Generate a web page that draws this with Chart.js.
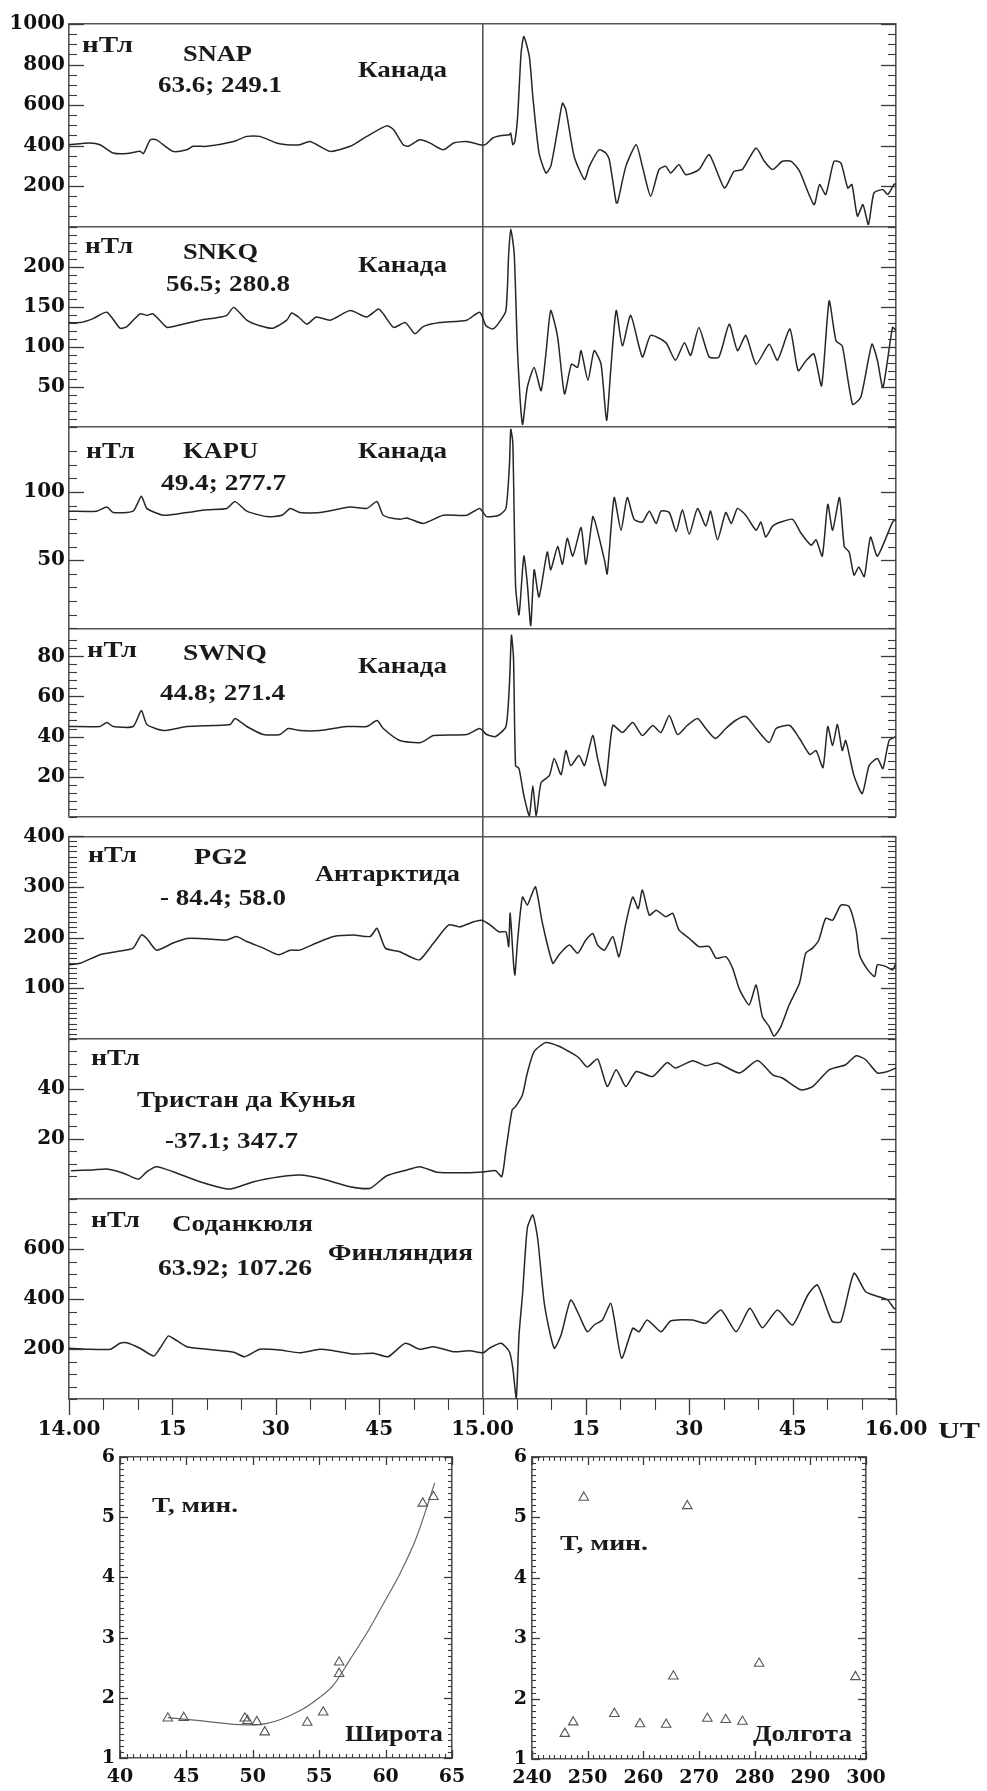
<!DOCTYPE html>
<html><head><meta charset="utf-8">
<script src="https://cdn.jsdelivr.net/npm/chart.js@4.4.1/dist/chart.umd.min.js"></script>
<style>
html,body{margin:0;padding:0;background:#fff;}
#wrap{position:relative;width:987px;height:1791px;overflow:hidden;background:#fff;}
canvas{position:absolute;}
.lbl{position:absolute;font-family:"Liberation Serif",serif;font-weight:bold;white-space:nowrap;color:#1a1a1a;transform-origin:0 0;}
</style></head><body><div id="wrap">
<canvas id="main" width="987" height="1455" style="left:0px;top:0px"></canvas>
<canvas id="lat" width="480" height="351" style="left:0px;top:1440px"></canvas>
<canvas id="lon" width="507" height="351" style="left:480px;top:1440px"></canvas>
</div>
<script>
// ---------------- DATA (minutes after 14.00 UT, nT) ----------------
const snapT = [0,3,4.5,6.4,8.4,10.3,10.8,11.8,12.7,15.1,17.1,18,20,23.9,25.8,27.7,30.1,31.6,33.5,35,37.9,40.8,43.2,46.1,47.1,48.5,49.2,50.9,52.4,54.3,55.8,57.7,59.6,60.4,61.5,62.6,63.9,64.1,64.4,64.7,65.1,65.6,66.0,66.8,67.3,68.2,69.2,69.9,70.9,71.6,72.1,73.3,74.8,75.5,76.9,77.9,78.4,79.4,79.6,80.8,82.3,83.2,84.4,85.6,86.6,87.3,88.5,89.5,91.4,92.9,95.1,96.5,97.7,99.7,100.9,102.1,103.5,104.8,106,108.1,108.9,109.8,111,112,113,113.6,114.4,115.2,116,116.8,118.1,118.8,119.7,120];
const snapV = [404,412,404,363,360,371,360,428,428,371,379,396,396,420,445,445,412,404,404,420,371,396,445,497,478,404,396,428,412,379,412,420,404,404,437,448,453,461,404,420,544,856,938,839,642,363,264,297,478,609,576,346,232,297,379,363,330,117,117,297,404,297,149,281,297,264,305,256,281,355,190,273,281,388,322,281,322,322,273,108,207,158,322,314,190,207,51,108,10,166,182,158,207,210];

const snkqT = [0,1.6,3.5,5.5,7.4,8.4,10.3,11.3,12.2,14.2,15.1,19,21.4,22.9,23.9,25.8,27.7,29.6,31.6,32.3,33.3,34.5,35.9,37.9,40.8,43.2,44.9,45.6,47.1,48.8,50.2,51.4,53.8,57.7,59.6,60.5,61.5,62.4,63.4,63.8,64.1,64.6,65.1,65.8,66.5,67.5,68.5,69.2,69.9,70.9,71.9,72.9,73.8,74.3,75.3,76.2,77.2,78,78.6,79.4,80.3,81.5,83.2,84.4,86.6,88,89.3,90.2,91.4,92.9,94.3,95.8,97,98.2,99.7,101.6,102.8,104.6,105.8,107,108.1,109.2,110.3,111.3,112.2,113.7,114.9,116.5,117.3,118.1,119.5,120];
const snkqV = [130,130,135,143,123,125,141,139,141,124,125,133,136,139,149,133,126,123,133,142,137,128,137,133,145,137,147,141,124,130,116,125,130,133,143,126,122,130,145,216,247,216,91,3,49,74,45,91,145,112,41,78,74,95,58,95,78,8,70,145,101,139,87,114,105,83,105,89,124,87,87,128,95,114,78,103,83,122,70,83,91,51,157,107,101,28,37,103,83,49,124,120];

const kapuT = [0,4,5.5,6.4,9.3,10.5,11.3,13.7,17.1,20,22.9,24.1,25.8,28.7,30.9,32.1,33.5,36.4,40.8,43.2,44.7,45.6,48,49,51.4,54.3,57.7,59.6,60.6,62.4,63.4,63.9,64.1,64.4,64.8,65.3,66,66.5,67,67.5,68.2,69.4,69.9,70.9,71.6,72.3,73.1,74.3,75,76,76.4,77.7,78.1,79.1,80.1,81,82,83.2,84.2,85.2,85.9,87.1,88.1,89,90,91.2,92.4,93.1,94.1,95.3,96.1,97,98.2,99.7,100.4,101.1,102.1,103.3,105,106.2,107.7,108.4,109.3,110.1,110.8,111.8,112.5,113.2,113.9,114.6,115.4,116.3,117.3,119.5,120];
const kapuV = [86,86,89,85,86,97,88,83,85,87,88,93,86,82,83,88,85,85,89,88,93,83,80,81,77,83,83,88,82,83,88,119,146,136,31,10,53,33,2,43,23,56,43,60,47,66,53,74,47,82,77,50,40,96,72,96,80,78,86,77,86,85,71,87,69,88,75,86,65,85,77,88,83,72,78,67,75,78,80,70,61,65,53,91,72,96,60,56,39,45,38,67,53,78,80];

const swnqT = [0,4.5,5.5,6.4,9.3,10.5,11.3,13.7,17.1,20.9,23.4,24.1,25.8,28.2,30.6,31.8,33.5,36.4,40.3,43.2,44.7,45.6,48,51,52.9,57.7,59.6,60.6,61.9,63.4,63.9,64.2,64.5,64.8,65.3,66,66.8,67.3,67.8,68.5,69.7,70.4,71.4,72.1,72.8,74,74.8,76,76.7,77.8,78.9,80.3,81.8,83.2,84.7,85.9,87.1,88.3,89.7,91.2,92.4,93.8,95.3,96.7,98.2,99.7,101.6,102.6,104.6,106,107.5,108.4,109.4,110.1,110.8,111.5,112.2,112.7,113.9,115.1,116.1,117.3,118.1,119,120];
const swnqV = [45,45,47,45,45,53,46,43,45,45.5,46,49,45,41,41,44,43,43,45,45,48,44,38,37,40.5,41,44,41,40,45,65.5,90.5,79,25.5,24,10.5,0.5,15.5,0.5,17,20.5,29,21,33,25.5,30.5,25.5,40.5,29,15.5,45.5,42,47,40.5,45.5,42,50.5,41,45.5,49,44,39,44,48,50,44,37,44,45.5,39,31,33,24.5,45,35.5,46,33,38,20.5,11.5,25.5,29,24,38,40];

const pg2T = [0,1.6,4.5,6.9,9.3,10.5,11.3,12.7,15.1,17.1,19,22.9,24.3,25.8,28.2,30.4,32.1,33.5,35.9,38.4,41.3,43.7,44.7,45.9,48,49.5,50.9,52.9,55.1,56.7,58.7,59.9,61.1,62.4,63.4,63.8,64,64.2,64.5,64.7,65.1,65.8,66.5,67,67.7,68.7,70.2,71.1,72.6,73.8,75,76,76.7,77.7,78.9,79.8,80.8,81.8,82.6,83.2,84.2,85.2,86.6,87.6,88.5,90,91.4,92.9,93.9,95.3,96.3,97.3,98.7,99.7,100.6,101.6,102.3,103.3,104.5,106,106.9,107.9,108.8,109.8,110.8,112,113.2,114.2,114.7,115.9,116.9,117.3,118.5,119.5,120];
const pg2V = [146,149,166,172,179,205,198,175,189,198,198,195,202,192,179,166,175,175,189,202,205,202,218,179,172,162,156,189,225,221,231,234,225,211,211,182,248,215,149,126,195,280,264,280,300,228,149,166,185,169,195,208,185,175,202,162,228,280,257,294,244,254,241,248,215,198,182,182,159,162,139,97,67,106,44,24,5,24,67,110,169,179,195,238,234,264,261,215,166,136,123,146,143,136,149];

const tdcT = [0.3,3.5,5.5,7.9,10.1,11.3,12.7,15.1,19,22.9,23.9,26.8,30.6,33.5,36.4,40.8,43.7,46.1,49,50.9,53.4,57.7,60.4,61.9,62.8,63.4,64.3,64.8,65.8,66.5,67.5,69.2,71.1,73.1,74,75.2,76.7,78.1,79.4,80.8,82.3,84.7,86.8,88,90.5,92.4,94.1,97.3,99.9,102.1,103.5,106.2,107.9,110.3,112.7,114.2,115.6,117.3,118.8,120];
const tdcV = [7.3,7.6,8,6.3,3.9,6.9,8.9,6.9,2.9,0,0.3,2.9,4.9,5.6,4.3,0.9,0.3,5.3,7.6,8.9,6.7,6.5,6.9,7.3,4.9,15.6,31.6,32.9,37.6,46.3,54.9,58.5,57,54,52.3,48.7,51.9,40.9,47.6,40.9,46.9,44.9,50.5,48.3,51.2,49.2,50.3,46.3,51.3,45.6,44.3,39.6,40.9,47.6,49.6,53.2,51.6,46.3,46.9,48.3];

const sodT = [0,2.6,6,7.4,8.4,10.3,12.3,13.2,14.4,15.1,17.1,20,23.9,25.5,27.7,30.6,33.5,36.4,38.4,41.3,44.2,46.3,48.8,50.9,52.9,55.8,58.2,60.1,61,62.7,63.9,64.4,64.9,65.3,65.8,66.5,67.3,68,69,70.4,71.4,72.8,74,75.2,76.2,77.4,78.6,79.1,80.2,81.8,82.7,83.9,85.9,87.3,90.5,92.4,94.6,96.8,98.8,100.6,102.8,105,107.2,108.6,110.7,112,113.9,115.6,117.5,118.8,119.7,120];
const sodV = [203,199,199,223,225,203,172,203,252,243,209,199,187,169,199,196,185,199,193,180,183,169,223,199,209,189,193,185,203,223,189,123,3,256,416,683,736,643,376,203,256,396,336,269,296,316,383,323,163,283,269,316,269,312,316,303,356,269,363,285,356,296,416,456,312,309,503,429,409,396,363,360];

// station names / coordinates (panel captions)
const stationNames = ['SNAP','SNKQ','KAPU','SWNQ','PG2','Тристан да Кунья','Соданкюля'];
const stationCoords = ['63.6; 249.1','56.5; 280.8','49.4; 277.7','44.8; 271.4','- 84.4; 58.0','-37.1; 347.7','63.92; 107.26'];
const stationRegion = ['Канада','Канада','Канада','Канада','Антарктида','','Финляндия'];

// y-axis tick labels of each panel
const snapTicks = [200,400,600,800,1000];
const snkqTicks = [50,100,150,200];
const kapuTicks = [50,100];
const swnqTicks = [20,40,60,80];
const pg2Ticks = [100,200,300,400];
const tdcTicks = [20,40];
const sodTicks = [200,400,600];
// x-axis tick labels (minutes -> text)
const timeTickMin = [0,15,30,45,60,75,90,105,120];
const timeTickText = ['14.00','15','30','45','15.00','15','30','45','16.00'];

// period T (min) versus latitude and longitude
const latDeg = [43.6,44.8,49.4,49.6,50.3,50.9,54.1,55.3,56.5,56.5,62.8,63.6];
const latT   = [1.66,1.67,1.66,1.62,1.60,1.43,1.59,1.76,2.59,2.40,5.23,5.34];
const fitLat = [43.6,46,49.5,51,53.5,55,56.1,57.3,58.6,59.8,61.1,62.3,63.7];
const fitT   = [1.67,1.62,1.55,1.57,1.78,2.0,2.22,2.63,3.08,3.55,4.07,4.65,5.57];
const lonDeg = [245.9,247.4,249.3,254.8,259.4,264.1,265.4,267.9,271.5,274.8,277.8,280.8,298.1];
const lonT   = [1.42,1.61,5.33,1.75,1.58,1.57,2.37,5.19,1.67,1.65,1.62,2.58,2.36];

// ---------------- STYLE / LAYOUT ----------------
const INK = '#262626', FRAME = '#555', TICK = '#3a3a3a', NONE = 'rgba(0,0,0,0)';
const tickFont = {family:'DejaVu Serif', weight:'bold', size:20};
const near = (a,b) => Math.abs(a-b) < 1e-6;

// tick marks drawn from each scale's own tick list and pixel mapping
function tickMarks(specs){
  return {id:'tickMarks', afterDraw(chart){
    const ctx = chart.ctx;
    ctx.save();
    ctx.strokeStyle = TICK;
    specs.forEach(sp => {
      const sc = chart.scales[sp.scale];
      if (!sc) return;
      sc.ticks.forEach(t => {
        const major = sp.isMajor(t.value);
        const len = major ? sp.maj : sp.min;
        if (!len) return;
        const p = Math.round(sc.getPixelForValue(t.value)) + 0.5;
        ctx.lineWidth = major ? 1.3 : 1.1;
        ctx.beginPath();
        if (sp.side === 'left') { ctx.moveTo(sc.right, p); ctx.lineTo(sc.right + len, p); }
        else if (sp.side === 'right') { ctx.moveTo(sc.left, p); ctx.lineTo(sc.left - len, p); }
        else if (sp.side === 'bottom') { ctx.moveTo(p, sc.top); ctx.lineTo(p, sc.top + sp.dir * len); }
        else { ctx.moveTo(p, sc.bottom); ctx.lineTo(p, sc.bottom + len); }
        ctx.stroke();
      });
    });
    ctx.restore();
  }};
}

const panels = [
  {T:snapT, V:snapV, min:0, max:1000, step:50, labels:snapTicks},
  {T:snkqT, V:snkqV, min:0, max:250, step:10, labels:snkqTicks},
  {T:kapuT, V:kapuV, min:0, max:148, step:10, labels:kapuTicks},
  {T:swnqT, V:swnqV, min:0, max:94, step:4, labels:swnqTicks, bottomLine:true},
  {T:pg2T, V:pg2V, min:0, max:400, step:10, labels:pg2Ticks},
  {T:tdcT, V:tdcV, min:-4, max:60, step:5, labels:tdcTicks},
  {T:sodT, V:sodV, min:0, max:800, step:50, labels:sodTicks}
];
const slots = [0,1,2,3,'gap',4,5,6];
const slotH = [202.5,200.2,201.6,188.4,19.6,202.4,160.3,200];
const LEFTW = 69, RIGHTW = 91;

const scales = {};
const mainTicks = [];
function blankAxis(pos, stack, h, w, width){
  return {type:'linear', position:pos, stack:stack, stackWeight:h, weight:w, min:0, max:1,
    ticks:{display:false}, grid:{display:false, drawTicks:false}, border:{display:false},
    afterFit: s => { s.width = width; }};
}
slots.forEach((s,k) => {
  const h = slotH[k];
  if (s === 'gap') {
    scales.yLgap = blankAxis('left','L',h,40-k,LEFTW);
    scales.yRgap = blankAxis('right','R',h,20+k,RIGHTW);
    return;
  }
  const p = panels[s];
  const isMaj = v => p.labels.some(l => near(l,v));
  const seps = p.bottomLine ? [p.max, p.min] : [p.max];
  scales['yL'+s] = {type:'linear', min:p.min, max:p.max, stackWeight:h, position:'left', stack:'L', weight:40-k,
    ticks:{stepSize:p.step, autoSkip:false, padding:4, color:'#111', font:tickFont,
      callback: v => isMaj(v) ? String(v) : ''},
    grid:{display:true, drawOnChartArea:true, drawTicks:false, lineWidth:1.6,
      color: c => (c.tick && seps.some(x => near(x,c.tick.value))) ? FRAME : NONE},
    border:{display:true, color:FRAME, width:1.6},
    afterFit: sc => { sc.width = LEFTW; }};
  scales['yR'+s] = {type:'linear', min:p.min, max:p.max, stackWeight:h, position:'right', stack:'R', weight:20+k,
    ticks:{stepSize:p.step, autoSkip:false, display:false},
    grid:{display:false, drawTicks:false},
    border:{display:true, color:FRAME, width:1.6},
    afterFit: sc => { sc.width = RIGHTW; }};
  mainTicks.push({scale:'yL'+s, side:'left', isMajor:isMaj, maj:15, min:8});
  mainTicks.push({scale:'yR'+s, side:'right', isMajor:isMaj, maj:15, min:8});
});
const isTimeMaj = v => timeTickMin.some(m => near(m,v));
scales.x = {type:'linear', position:'bottom', weight:1, min:0, max:120,
  ticks:{stepSize:5, autoSkip:false, maxRotation:0, padding:19, color:'#111', font:tickFont,
    callback: v => { const i = timeTickMin.findIndex(m => near(m,v)); return i >= 0 ? timeTickText[i] : ''; }},
  grid:{display:true, drawOnChartArea:true, drawTicks:false, lineWidth:1.6,
    color: c => (c.tick && near(c.tick.value,60)) ? FRAME : NONE},
  border:{display:true, color:FRAME, width:1.6},
  afterFit: sc => { sc.height = 1455 - 1399; }};
mainTicks.push({scale:'x', side:'bottom', dir:1, isMajor:isTimeMaj, maj:16, min:11});

const datasets = panels.map((p,i) => ({
  data: p.T.map((t,j) => ({x:t, y:p.V[j]})),
  xAxisID:'x', yAxisID:'yL'+i,
  borderColor:INK, borderWidth:1.5, pointRadius:0, tension:0.2, fill:false
}));

new Chart(document.getElementById('main'), {
  type:'line',
  data:{datasets},
  options:{responsive:false, animation:false, events:[], devicePixelRatio:1,
    layout:{padding:{top:24, left:0, right:0, bottom:0}},
    plugins:{legend:{display:false}, tooltip:{enabled:false}},
    scales},
  plugins:[tickMarks(mainTicks)]
});

// ---------------- scatter panels ----------------
const smallFont = {family:'DejaVu Serif', weight:'bold', size:19};
function frameScales(o){
  const xB = {type:'linear', min:o.xmin, max:o.xmax};
  const yB = {type:'linear', min:o.ymin, max:o.ymax};
  const noGrid = {display:false, drawTicks:false};
  return {
    x: Object.assign({}, xB, {position:'bottom', weight:1,
      ticks:{stepSize:o.xMinor, autoSkip:false, maxRotation:0, padding:8, color:'#111', font:smallFont,
        callback: v => o.xMaj(v) ? String(Math.round(v)) : ''},
      grid:noGrid,
      border:{display:true, color:FRAME, width:1.6}, afterFit: s => { s.height = o.bottom; }}),
    xt: Object.assign({}, xB, {position:'top', weight:1,
      ticks:{stepSize:o.xMinor, autoSkip:false, display:false},
      grid:noGrid,
      border:{display:true, color:FRAME, width:1.6}, afterFit: s => { s.height = 0; }}),
    y: Object.assign({}, yB, {position:'left', weight:1,
      ticks:{stepSize:o.yMinor, autoSkip:false, padding:5, color:'#111', font:smallFont,
        callback: v => o.yMaj(v) ? String(Math.round(v)) : ''},
      grid:noGrid,
      border:{display:true, color:FRAME, width:1.6}, afterFit: s => { s.width = o.left; }}),
    yr: Object.assign({}, yB, {position:'right', weight:1,
      ticks:{stepSize:o.yMinor, autoSkip:false, display:false},
      grid:noGrid,
      border:{display:true, color:FRAME, width:1.6}, afterFit: s => { s.width = o.right; }})
  };
}
function frameTicks(o){
  return [
    {scale:'x', side:'bottom', dir:-1, isMajor:o.xMaj, maj:8, min:4},
    {scale:'xt', side:'top', isMajor:o.xMaj, maj:8, min:4},
    {scale:'y', side:'left', isMajor:o.yMaj, maj:8, min:4},
    {scale:'yr', side:'right', isMajor:o.yMaj, maj:8, min:4}
  ];
}
const triStyle = {type:'scatter', pointStyle:'triangle', pointRadius:5.5, borderColor:'#555', borderWidth:1.1,
  backgroundColor:NONE, showLine:false, xAxisID:'x', yAxisID:'y'};
const yIsInt = v => near(v, Math.round(v));

const latFrame = {xmin:40, xmax:65, xMinor:0.5, ymin:1, ymax:6, yMinor:0.1, left:120, right:28, bottom:33,
  xMaj: v => near(v/5, Math.round(v/5)), yMaj: yIsInt};
new Chart(document.getElementById('lat'), {
  type:'scatter',
  data:{datasets:[
    Object.assign({}, triStyle, {data: latDeg.map((v,i) => ({x:v, y:latT[i]}))}),
    {type:'line', data: fitLat.map((v,i) => ({x:v, y:fitT[i]})), borderColor:'#666', borderWidth:1.2,
      pointRadius:0, cubicInterpolationMode:'monotone', xAxisID:'x', yAxisID:'y', fill:false}
  ]},
  options:{responsive:false, animation:false, events:[], devicePixelRatio:1,
    layout:{padding:{top:17, left:0, right:0, bottom:0}},
    plugins:{legend:{display:false}, tooltip:{enabled:false}},
    scales: frameScales(latFrame)},
  plugins:[tickMarks(frameTicks(latFrame))]
});
const lonFrame = {xmin:240, xmax:300, xMinor:1, ymin:1, ymax:6, yMinor:0.1, left:52, right:121, bottom:32,
  xMaj: v => near(v/10, Math.round(v/10)), yMaj: yIsInt};
new Chart(document.getElementById('lon'), {
  type:'scatter',
  data:{datasets:[
    Object.assign({}, triStyle, {data: lonDeg.map((v,i) => ({x:v, y:lonT[i]}))})
  ]},
  options:{responsive:false, animation:false, events:[], devicePixelRatio:1,
    layout:{padding:{top:17, left:0, right:0, bottom:0}},
    plugins:{legend:{display:false}, tooltip:{enabled:false}},
    scales: frameScales(lonFrame)},
  plugins:[tickMarks(frameTicks(lonFrame))]
});

// ---------------- captions (real text) ----------------
const wrap = document.getElementById('wrap');
function addLabel(text, left, right, baseline, size){
  const el = document.createElement('div');
  el.className = 'lbl';
  el.textContent = text;
  el.style.fontSize = size + 'px';
  el.style.lineHeight = size + 'px';
  wrap.appendChild(el);
  const w = el.getBoundingClientRect().width;
  el.style.left = left + 'px';
  el.style.top = (baseline - 0.8375 * size) + 'px';
  el.style.transform = 'scaleX(' + ((right - left) / w).toFixed(3) + ')';
}
const unitLbl = [[82,133,52],[85,133,253],[86,135,458],[87,137,657],[88,137,862],[91,140,1065],[91,140,1227]];
const nameLbl = [[183,252,61],[183,258,259],[183,258,458],[183,267,660],[194,247,864],[137,356,1107],[172,313,1231]];
const coordLbl = [[158,282,92],[166,290,291],[161,286,490],[160,285,700],[160,286,905],[165,298,1148],[158,312,1275]];
const regionLbl = [[358,447,77],[358,447,272],[358,447,458],[358,447,673],[315,460,881],null,[328,473,1260]];
for (let i = 0; i < 7; i++) {
  addLabel('нТл', unitLbl[i][0], unitLbl[i][1], unitLbl[i][2], 23);
  addLabel(stationNames[i], nameLbl[i][0], nameLbl[i][1], nameLbl[i][2], 24);
  addLabel(stationCoords[i], coordLbl[i][0], coordLbl[i][1], coordLbl[i][2], 23);
  if (regionLbl[i]) addLabel(stationRegion[i], regionLbl[i][0], regionLbl[i][1], regionLbl[i][2], 24);
}
addLabel('UT', 938, 980, 1438, 23);
addLabel('T, мин.', 152, 238, 1513, 21);
addLabel('Широта', 345, 443, 1741, 23);
addLabel('T, мин.', 560, 648, 1551, 21);
addLabel('Долгота', 753, 852, 1741, 23);
</script>
</body></html>
